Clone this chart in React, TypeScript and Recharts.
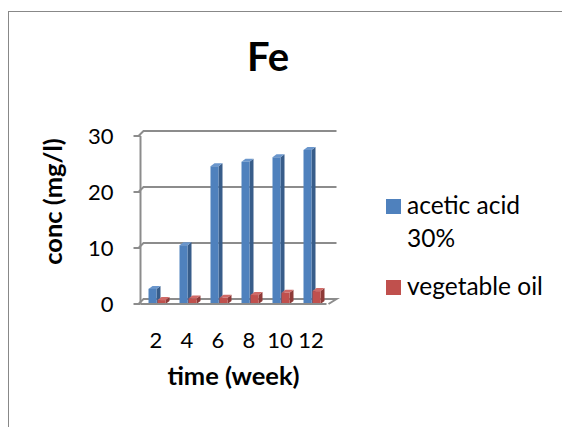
import React from "react";
import { Bar, BarChart, CartesianGrid, Label, XAxis, YAxis } from "recharts";

const weeks = ["2", "4", "6", "8", "10", "12"];
const aceticAcid = [2.7, 10.5, 24.6, 25.4, 26.2, 27.5];
const vegetableOil = [0.7, 1.0, 1.1, 1.6, 2.0, 2.3];
const seriesNames = ["acetic acid 30%", "vegetable oil"];
const yTicks = [0, 10, 20, 30];

const colors = [
  { front: "#4F81BD", side: "#385D8A", top: "#6A96CC" },
  { front: "#C0504D", side: "#8E3A38", top: "#D06A67" },
];

const data = weeks.map((w, i) => ({ week: w, acid: aceticAcid[i], oil: vegetableOil[i] }));

const font = "Lato, 'Open Sans', sans-serif";
const gridColor = "#8C8C8C";

// fake excel-style 3d column (nudged right a bit like the excel perspective)
function Column3D(props: any) {
  const { y, width, height, palette } = props;
  if (width == null || height == null) return null;
  const x = props.x + 1;
  const dx = 4;
  const dy = 3;
  const side = `${x + width},${y} ${x + width + dx},${y - dy} ${x + width + dx},${y + height - dy} ${x + width},${y + height}`;
  const top = `${x},${y} ${x + dx},${y - dy} ${x + width + dx},${y - dy} ${x + width},${y}`;
  return (
    <g>
      <polygon points={side} fill={palette.side} />
      <polygon points={top} fill={palette.top} />
      <rect x={x} y={y} width={width} height={height} fill={palette.front} />
    </g>
  );
}

// back-wall gridline with the little diagonal joint, like excel 3d charts
function WallLine(props: any) {
  const { x1, x2, y1, index } = props;
  const isFloor = index === 0;
  let d = `M ${x1 - 2} ${y1} L ${x1 + 3} ${y1 - 5} L ${x2 + 10} ${y1 - 5}`;
  if (isFloor) d += ` L ${x2 + 2} ${y1}`;
  return <path key={`wall-${index}`} d={d} fill="none" stroke={gridColor} strokeWidth={2} />;
}

export default function App() {
  return (
    <div
      style={{
        position: "relative",
        marginTop: 3,
        width: 562,
        height: 416,
        borderTop: "1px solid #888",
        borderLeft: "1px solid #888",
        overflow: "hidden",
        fontFamily: font,
      }}
    >
      <div
        style={{
          position: "absolute",
          left: 213,
          top: 24,
          width: 92,
          textAlign: "center",
          fontSize: 40,
          lineHeight: "40px",
          fontWeight: 700,
        }}
      >
        Fe
      </div>

      <BarChart
        width={560}
        height={415}
        data={data}
        margin={{ top: 124, right: 242.5, left: 24, bottom: 33 }}
        barSize={8}
        barGap={1}
      >
        <CartesianGrid horizontal={WallLine as any} vertical={false} />
        <XAxis
          dataKey="week"
          height={90}
          tickLine={false}
          tickSize={0}
          tickMargin={28}
          axisLine={{ stroke: gridColor, strokeWidth: 2 }}
          tick={{ fill: "#000", fontSize: 22, fontFamily: font }}
        >
          <Label
            value="time (week)"
            position="insideBottom"
            offset={9}
            style={{ fontSize: 25.5, fontWeight: 700, fill: "#000", fontFamily: font }}
          />
        </XAxis>
        <YAxis
          domain={[0, 30]}
          ticks={yTicks}
          width={107.5}
          tickSize={7}
          tickMargin={20}
          axisLine={{ stroke: gridColor, strokeWidth: 2 }}
          tickLine={{ stroke: gridColor, strokeWidth: 2 }}
          tick={{ fill: "#000", fontSize: 22, fontFamily: font }}
        >
          <Label
            content={(p: any) => {
              const vb = p.viewBox;
              const cx = vb.x + 19;
              const cy = vb.y + vb.height / 2 - 18.5;
              return (
                <text
                  x={cx}
                  y={cy}
                  transform={`rotate(-90 ${cx} ${cy})`}
                  textAnchor="middle"
                  dominantBaseline="central"
                  style={{ fontSize: 25.5, fontWeight: 700, fill: "#000", fontFamily: font }}
                >
                  conc (mg/l)
                </text>
              );
            }}
          />
        </YAxis>
        <Bar
          dataKey="acid"
          name={seriesNames[0]}
          isAnimationActive={false}
          shape={(p: any) => <Column3D {...p} palette={colors[0]} />}
        />
        <Bar
          dataKey="oil"
          name={seriesNames[1]}
          isAnimationActive={false}
          shape={(p: any) => <Column3D {...p} palette={colors[1]} />}
        />
      </BarChart>

      <div style={{ position: "absolute", left: 377, top: 176, fontSize: 24.5, lineHeight: "33px" }}>
        {seriesNames.map((name, i) => (
          <div key={name} style={{ display: "flex", alignItems: "flex-start", marginBottom: 15 }}>
            <span
              style={{
                display: "inline-block",
                flex: "none",
                width: 15,
                height: 15,
                marginTop: 11,
                marginRight: 6,
                background: colors[i].front,
              }}
            />
            <span style={{ width: 148 }}>{name}</span>
          </div>
        ))}
      </div>
    </div>
  );
}
